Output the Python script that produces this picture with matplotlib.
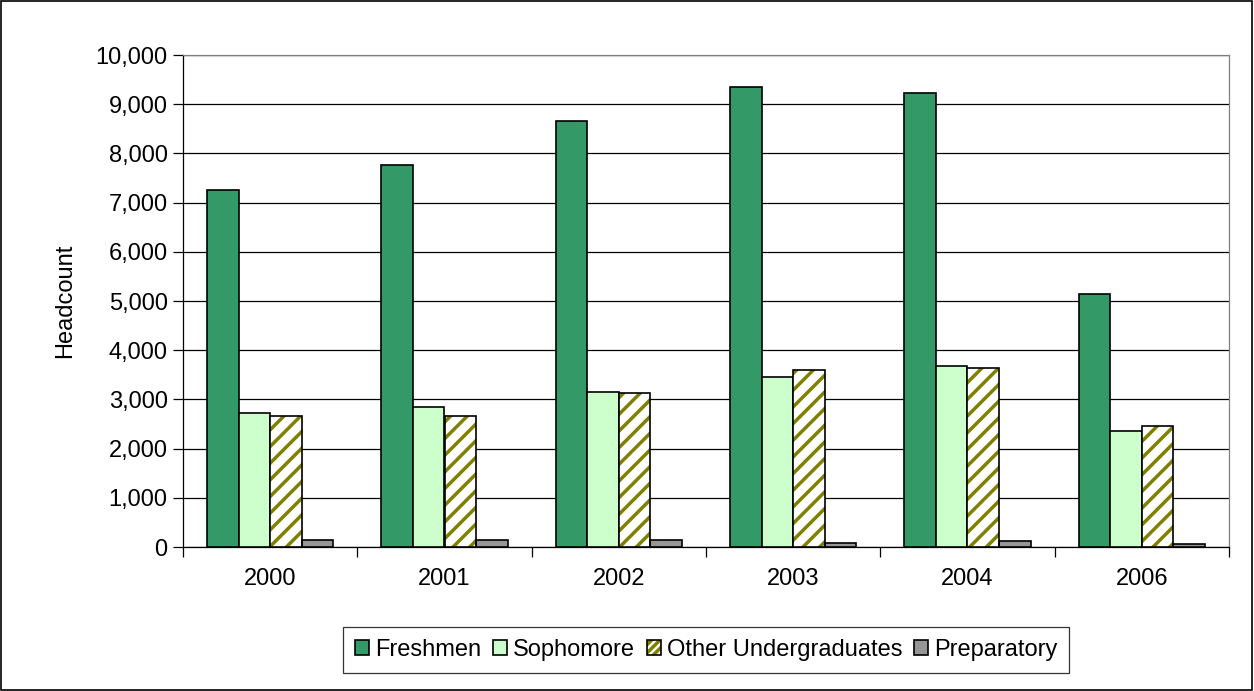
import matplotlib
matplotlib.use("Agg")
import matplotlib.pyplot as plt
import matplotlib.patches as patches
from matplotlib.ticker import FuncFormatter, FixedLocator
import numpy as np

plt.rcParams["font.family"] = ["Liberation Sans", "DejaVu Sans"]
plt.rcParams["hatch.linewidth"] = 2.5

years = ["2000", "2001", "2002", "2003", "2004", "2006"]
freshmen = [7250, 7760, 8665, 9355, 9220, 5140]
sophomore = [2725, 2840, 3150, 3455, 3680, 2355]
other_undergrad = [2660, 2660, 3130, 3605, 3640, 2455]
preparatory = [135, 150, 150, 80, 120, 70]

OLIVE = "#808000"
series = [
    ("Freshmen", freshmen, "#339966", None),
    ("Sophomore", sophomore, "#CCFFCC", None),
    ("Other Undergraduates", other_undergrad, "white", "//"),
    ("Preparatory", preparatory, "#969696", None),
]

fig = plt.figure(figsize=(12.54, 6.91), dpi=100)
ax = fig.add_axes([183 / 1254, 1 - 547 / 691, (1229 - 183) / 1254, (547 - 55) / 691])

x = np.arange(len(years))
width = 0.181
offsets = (np.arange(len(series)) - 1.5) * width
handles = []
for (name, vals, color, hatch), off in zip(series, offsets):
    if hatch:
        # olive hatch underneath, black outline on top
        ax.bar(x + off, vals, width, facecolor=color, edgecolor=OLIVE, hatch=hatch,
               linewidth=0, zorder=3)
        ax.bar(x + off, vals, width, facecolor="none", edgecolor="black", linewidth=1.2, zorder=4)
        h = patches.Patch(facecolor=color, edgecolor=OLIVE, hatch="////", linewidth=0)
        handles.append((h, patches.Patch(facecolor="none", edgecolor="black", linewidth=1.2)))
    else:
        ax.bar(x + off, vals, width, facecolor=color, edgecolor="black", linewidth=1.2, zorder=3)
        handles.append(patches.Patch(facecolor=color, edgecolor="black", linewidth=1.2))

ax.set_xlim(-0.5, len(years) - 0.5)
ax.set_ylim(0, 10000)
ax.set_yticks(np.arange(0, 10001, 1000))
ax.yaxis.set_major_formatter(FuncFormatter(lambda v, p: f"{int(v):,}"))
ax.yaxis.grid(True, color="black", linewidth=0.9, zorder=0)
ax.set_axisbelow(True)

ax.set_xticks(x)
ax.set_xticklabels(years)
ax.xaxis.set_minor_locator(FixedLocator(np.arange(-0.5, len(years), 1.0)))
ax.tick_params(axis="x", which="major", length=0, pad=15, labelsize=17)
ax.tick_params(axis="x", which="minor", length=7, width=0.9, direction="out")
ax.tick_params(axis="y", length=7, width=0.9, direction="out", labelsize=17, pad=4)

for s in ["left", "bottom"]:
    ax.spines[s].set_color("black")
    ax.spines[s].set_linewidth(0.9)
for s in ["top", "right"]:
    ax.spines[s].set_color("#808080")
    ax.spines[s].set_linewidth(0.9)

ax.set_ylabel("Headcount", fontsize=17, labelpad=14)

leg = fig.legend(handles, [s[0] for s in series], loc="center",
                 bbox_to_anchor=(706 / 1254, 1 - 650 / 691), ncol=4,
                 fontsize=17, frameon=True, fancybox=False, edgecolor="black",
                 handlelength=0.6, handleheight=0.6, handletextpad=0.25,
                 columnspacing=0.5, borderpad=0.5)
leg.get_frame().set_linewidth(0.9)

fig.patches.append(patches.Rectangle((0.0005, 0.001), 0.998, 0.997, transform=fig.transFigure,
                                     fill=False, edgecolor="black", linewidth=1.2))

plt.savefig("out.png", dpi=100)
